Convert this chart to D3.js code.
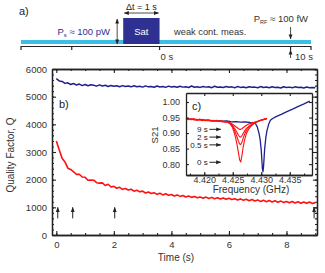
<!DOCTYPE html>
<html>
<head>
<meta charset="utf-8">
<script src="https://cdn.jsdelivr.net/npm/d3@7"></script>
<style>
  body { margin: 0; background: #fff; }
  svg { display: block; font-family: "Liberation Sans", Arial, sans-serif; }
</style>
</head>
<body>
<svg id="chart" width="325" height="273"></svg>
<script>
// ---- panel a: measurement timeline (s) ----
const timelineTicks = [-9.15, -5.8, 0, 8.65, 10];
const satWindow = [-2.4, 0];
const pumpArrowAt = -2.8;
const probeArrowAt = 8.65;

// ---- panel b: quality factor vs time ----
const qStep = 0.1;
const qBlue = [5650, 5570, 5550, 5480, 5500, 5440, 5475, 5420, 5455, 5400, 5440, 5395, 5430, 5410, 5380,
  5425, 5385, 5410, 5370, 5405, 5375, 5395, 5360, 5400, 5365, 5385, 5355, 5395, 5360, 5375, 5345, 5390,
  5355, 5370, 5340, 5385, 5350, 5365, 5335, 5380, 5350, 5370, 5340, 5375, 5345, 5360, 5330, 5385, 5340,
  5355, 5335, 5370, 5345, 5360, 5325, 5375, 5340, 5350, 5330, 5365, 5340, 5355, 5320, 5370, 5335, 5350,
  5325, 5360, 5340, 5345, 5320, 5365, 5330, 5350, 5325, 5360, 5335, 5340, 5315, 5360, 5330, 5345, 5320,
  5355, 5330, 5340, 5315, 5350, 5325, 5335, 5320];
const qRed = [3400, 3080, 2770, 2640, 2415, 2370, 2285, 2190, 2195, 2095, 2085, 1980, 1990, 1980, 1890,
  1875, 1885, 1790, 1835, 1735, 1760, 1690, 1725, 1650, 1680, 1625, 1655, 1585, 1615, 1560, 1585, 1520,
  1555, 1500, 1530, 1470, 1510, 1450, 1490, 1440, 1465, 1410, 1450, 1395, 1430, 1375, 1410, 1360, 1395,
  1345, 1375, 1330, 1370, 1320, 1360, 1310, 1345, 1300, 1340, 1290, 1325, 1280, 1310, 1265, 1305, 1255,
  1290, 1240, 1285, 1230, 1265, 1215, 1255, 1205, 1245, 1195, 1235, 1185, 1225, 1175, 1210, 1165, 1210,
  1160, 1200, 1150, 1195, 1145, 1190, 1140, 1170];
const markTimes = [0.05, 0.57, 2.03, 8.96];
const qTicks = [0, 1000, 2000, 3000, 4000, 5000, 6000];
const tTicks = [0, 2, 4, 6, 8];

// ---- panel c: S21 spectra ----
const redFreq = [4.4168, 4.4172, 4.4177, 4.4182, 4.4187, 4.4192, 4.4197, 4.4202, 4.4207, 4.4212, 4.4217,
  4.4222, 4.4227, 4.4232, 4.4237, 4.4241, 4.4245, 4.4249, 4.4252, 4.4255, 4.4258, 4.4260, 4.4262, 4.4264,
  4.4266, 4.4268, 4.4271, 4.4274, 4.4278, 4.4282, 4.4286, 4.4290, 4.4295, 4.4300, 4.4305, 4.4310];
const s21At0 = [.947, .943, .946, .944, .941, .945, .942, .940, .943, .939, .941, .938, .940, .936, .938, .935,
  .930, .920, .905, .885, .858, .836, .814, .807, .826, .852, .880, .899, .913, .922, .929, .934, .938, .941, .944, .948];
const s21At05 = [.945, .946, .943, .945, .943, .942, .944, .941, .940, .941, .938, .940, .937, .938, .936, .936,
  .931, .923, .913, .900, .885, .874, .865, .863, .870, .882, .897, .909, .918, .925, .930, .934, .938, .942, .945, .947];
const s21At2 = [.948, .944, .945, .942, .944, .943, .940, .942, .941, .938, .940, .939, .937, .939, .935, .937,
  .932, .926, .919, .910, .900, .893, .888, .887, .891, .898, .907, .915, .921, .927, .931, .935, .938, .941, .944, .946];
const s21At9 = [.946, .945, .944, .946, .942, .943, .943, .941, .942, .940, .939, .941, .938, .937, .937, .936,
  .933, .929, .925, .921, .917, .914, .912, .912, .914, .917, .921, .925, .929, .932, .934, .936, .939, .942, .944, .947];
const blueFreq = [4.4225, 4.4232, 4.4240, 4.4248, 4.4256, 4.4264, 4.4272, 4.4280, 4.4286, 4.4290, 4.4293,
  4.4296, 4.4298, 4.4300, 4.4301, 4.4302, 4.4303, 4.4304, 4.4305, 4.4306, 4.4308, 4.4310, 4.4313, 4.4316,
  4.4320, 4.4326, 4.4335, 4.4345, 4.4355, 4.4365, 4.4375, 4.4385];
const s21Blue = [.940, .938, .939, .936, .937, .935, .936, .934, .933, .930, .920, .900, .880, .845, .815,
  .785, .776, .792, .820, .850, .885, .908, .928, .941, .947, .953, .960, .969, .977, .986, .994, 1.003];
const delayLabels = ["9 s", "2 s", "0.5 s", "0 s"];
const delayLevels = [0.912, 0.887, 0.862, 0.806];
const fTicks = [4.420, 4.425, 4.430, 4.435];
const sTicks = [0.80, 0.85, 0.90, 0.95, 1.00];

const navy = "#1f1f8f", red = "#ff1010", ink = "#222";
const svg = d3.select("#chart");

const defs = svg.append("defs");
function addHead(id, size) {
  defs.append("marker").attr("id", id).attr("viewBox", "0 0 6 6")
      .attr("refX", 5.5).attr("refY", 3).attr("markerWidth", size).attr("markerHeight", size)
      .attr("markerUnits", "userSpaceOnUse").attr("orient", "auto-start-reverse")
    .append("path").attr("d", "M0,0.7 L6,3 L0,5.3 Z").attr("fill", ink);
}
addHead("head", 6);
addHead("small", 5);

// ================= panel a =================
const xA = d3.scaleLinear().domain([-9.15, 10]).range([21, 311]);
const a = svg.append("g");
a.append("text").attr("x", 19).attr("y", 15).attr("font-size", 11).attr("fill", ink).text("a)");
a.append("rect").attr("x", xA(-9.15)).attr("y", 40).attr("width", xA(10) - xA(-9.15)).attr("height", 4)
    .attr("fill", "#3cbfe6");
a.append("line").attr("x1", xA(-9.15)).attr("x2", xA(10)).attr("y1", 46.5).attr("y2", 46.5)
    .attr("stroke", ink).attr("stroke-width", 1.2);
a.selectAll(".tk").data(timelineTicks).join("line")
    .attr("x1", d => xA(d)).attr("x2", d => xA(d)).attr("y1", 46).attr("y2", 50)
    .attr("stroke", ink).attr("stroke-width", 1.2);
a.append("text").attr("x", xA(0) + 1).attr("y", 60).attr("font-size", 9.5).attr("fill", "#333").text("0 s");
a.append("text").attr("x", xA(10) + 2).attr("y", 60).attr("font-size", 9.5).attr("fill", "#333")
    .attr("text-anchor", "end").text("10 s");
a.append("rect").attr("x", xA(satWindow[0])).attr("y", 18).attr("width", xA(satWindow[1]) - xA(satWindow[0]))
    .attr("height", 26).attr("fill", "#2e3192");
a.append("text").attr("x", (xA(satWindow[0]) + xA(satWindow[1])) / 2).attr("y", 35)
    .attr("text-anchor", "middle").attr("font-size", 9.5).attr("fill", "#fff").text("Sat");
a.append("line").attr("x1", xA(satWindow[0]) + 1).attr("x2", xA(satWindow[1]) - 1).attr("y1", 13).attr("y2", 13)
    .attr("stroke", ink).attr("stroke-width", 0.8)
    .attr("marker-start", "url(#small)").attr("marker-end", "url(#small)");
a.append("text").attr("x", (xA(satWindow[0]) + xA(satWindow[1])) / 2).attr("y", 10)
    .attr("text-anchor", "middle").attr("font-size", 9).attr("fill", ink).text("\u0394t = 1 s");
a.append("line").attr("x1", xA(pumpArrowAt)).attr("x2", xA(pumpArrowAt)).attr("y1", 19).attr("y2", 44)
    .attr("stroke", ink).attr("stroke-width", 0.8)
    .attr("marker-start", "url(#small)").attr("marker-end", "url(#small)");
const ps = a.append("text").attr("x", 110).attr("y", 35).attr("text-anchor", "end")
    .attr("font-size", 9.5).attr("fill", "#2e3192");
ps.append("tspan").text("P");
ps.append("tspan").attr("font-size", 6).attr("dy", 2).text("s");
ps.append("tspan").attr("dy", -2).text(" \u2248 100 pW");
a.append("text").attr("x", 174).attr("y", 35).attr("font-size", 9.3).attr("fill", "#333").text("weak cont. meas.");
const prf = a.append("text").attr("x", 308).attr("y", 22).attr("text-anchor", "end")
    .attr("font-size", 9.5).attr("fill", "#333");
prf.append("tspan").text("P");
prf.append("tspan").attr("font-size", 5.5).attr("dy", 2).text("RF");
prf.append("tspan").attr("dy", -2).text(" \u2248 100 fW");
a.append("line").attr("x1", xA(probeArrowAt)).attr("x2", xA(probeArrowAt)).attr("y1", 27).attr("y2", 39)
    .attr("stroke", ink).attr("stroke-width", 0.8).attr("marker-end", "url(#small)");
a.append("line").attr("x1", xA(probeArrowAt)).attr("x2", xA(probeArrowAt)).attr("y1", 58).attr("y2", 50)
    .attr("stroke", ink).attr("stroke-width", 0.8).attr("marker-end", "url(#small)");

// ================= panel b =================
const x = d3.scaleLinear().domain([-0.15, 9.06]).range([52, 317]);
const y = d3.scaleLinear().domain([0, 6000]).range([235, 69]);
const b = svg.append("g");

function styleAxis(g, size) {
  g.select(".domain").attr("stroke", ink).attr("stroke-width", 1.3);
  g.selectAll(".tick line").attr("stroke", ink).attr("stroke-width", 1.1);
  g.selectAll("text").attr("font-size", size).attr("fill", "#333").attr("font-family", null);
}
const tMinor = d3.range(0, 9.01, 0.5), qMinor = d3.range(0, 6001, 200);
b.append("g").attr("transform", "translate(0,235)")
    .call(d3.axisBottom(x).tickValues(tMinor).tickSize(-2).tickSizeOuter(0).tickFormat(""))
    .call(g => styleAxis(g, 9.5));
b.append("g").attr("transform", "translate(0,235)")
    .call(d3.axisBottom(x).tickValues(tTicks).tickSize(-4).tickSizeOuter(0).tickPadding(6).tickFormat(d3.format("d")))
    .call(g => styleAxis(g, 9.5));
b.append("g").attr("transform", "translate(0,69)")
    .call(d3.axisTop(x).tickValues(tMinor).tickSize(-2).tickSizeOuter(0).tickFormat(""))
    .call(g => styleAxis(g, 9.5));
b.append("g").attr("transform", "translate(0,69)")
    .call(d3.axisTop(x).tickValues(tTicks).tickSize(-4).tickSizeOuter(0).tickFormat(""))
    .call(g => styleAxis(g, 9.5));
b.append("g").attr("transform", "translate(52,0)")
    .call(d3.axisLeft(y).tickValues(qMinor).tickSize(-2).tickSizeOuter(0).tickFormat(""))
    .call(g => styleAxis(g, 9.5));
b.append("g").attr("transform", "translate(52,0)")
    .call(d3.axisLeft(y).tickValues(qTicks).tickSize(-4).tickSizeOuter(0).tickPadding(5).tickFormat(d3.format("d")))
    .call(g => styleAxis(g, 9.5));
b.append("g").attr("transform", "translate(317,0)")
    .call(d3.axisRight(y).tickValues(qMinor).tickSize(-2).tickSizeOuter(0).tickFormat(""))
    .call(g => styleAxis(g, 9.5));
b.append("g").attr("transform", "translate(317,0)")
    .call(d3.axisRight(y).tickValues(qTicks).tickSize(-4).tickSizeOuter(0).tickFormat(""))
    .call(g => styleAxis(g, 9.5));

const qLine = d3.line().x((d, i) => x(i * qStep)).y(d => y(d));
b.append("path").datum(qBlue).attr("d", qLine).attr("fill", "none")
    .attr("stroke", navy).attr("stroke-width", 1.5).attr("stroke-linejoin", "round");
b.append("path").datum(qRed).attr("d", qLine).attr("fill", "none")
    .attr("stroke", red).attr("stroke-width", 1.6).attr("stroke-linejoin", "round");

b.selectAll(".mark").data(markTimes).join("line")
    .attr("x1", d => x(d)).attr("x2", d => x(d)).attr("y1", y(600)).attr("y2", y(1000))
    .attr("stroke", ink).attr("stroke-width", 1).attr("marker-end", "url(#small)");

b.append("text").attr("x", 59).attr("y", 108).attr("font-size", 11).attr("fill", ink).text("b)");
b.append("text").attr("x", 176).attr("y", 261).attr("text-anchor", "middle")
    .attr("font-size", 10).attr("fill", "#333").text("Time (s)");
b.append("text").attr("transform", "translate(14,155) rotate(-90)").attr("text-anchor", "middle")
    .attr("font-size", 10).attr("fill", "#333").text("Quality Factor, Q");

// ================= panel c (inset) =================
const xc = d3.scaleLinear().domain([4.4168, 4.4389]).range([186, 312]);
const yc = d3.scaleLinear().domain([0.765, 1.029]).range([175, 93]);
const c = svg.append("g");
c.append("rect").attr("x", 186).attr("y", 93).attr("width", 126).attr("height", 82).attr("fill", "#fff");

const cLine = d3.line().x(d => xc(d[0])).y(d => yc(d[1]));
c.append("path").datum(d3.zip(blueFreq, s21Blue)).attr("d", cLine).attr("fill", "none")
    .attr("stroke", navy).attr("stroke-width", 1.3).attr("stroke-linejoin", "round");
[s21At9, s21At2, s21At05, s21At0].forEach(vals => {
  c.append("path").datum(d3.zip(redFreq, vals)).attr("d", cLine).attr("fill", "none")
      .attr("stroke", red).attr("stroke-width", 1.1).attr("stroke-linejoin", "round");
});

const fMinor = d3.range(4.4175, 4.4389, 0.0025);
c.append("g").attr("transform", "translate(0,175)")
    .call(d3.axisBottom(xc).tickValues(fMinor).tickSize(-1.5).tickSizeOuter(0).tickFormat(""))
    .call(g => styleAxis(g, 9));
c.append("g").attr("transform", "translate(0,175)")
    .call(d3.axisBottom(xc).tickValues(fTicks).tickSize(-3).tickSizeOuter(0).tickPadding(2).tickFormat(d3.format(".3f")))
    .call(g => styleAxis(g, 9));
c.append("g").attr("transform", "translate(0,93)")
    .call(d3.axisTop(xc).tickValues(fTicks).tickSize(-3).tickSizeOuter(0).tickFormat(""))
    .call(g => styleAxis(g, 9));
c.append("g").attr("transform", "translate(186,0)")
    .call(d3.axisLeft(yc).tickValues(sTicks).tickSize(-3).tickSizeOuter(0).tickPadding(6).tickFormat(d3.format(".2f")))
    .call(g => styleAxis(g, 9));
c.append("g").attr("transform", "translate(312,0)")
    .call(d3.axisRight(yc).tickValues(sTicks).tickSize(-3).tickSizeOuter(0).tickFormat(""))
    .call(g => styleAxis(g, 9));

c.selectAll(".darr").data(delayLevels).join("line")
    .attr("x1", xc(4.4209)).attr("x2", xc(4.4229)).attr("y1", d => yc(d)).attr("y2", d => yc(d))
    .attr("stroke", ink).attr("stroke-width", 1).attr("marker-end", "url(#small)");
c.selectAll(".dlab").data(delayLabels).join("text")
    .attr("x", xc(4.4206)).attr("y", (d, i) => yc(delayLevels[i]) + 2.8).attr("text-anchor", "end")
    .attr("font-size", 8).attr("fill", ink).text(d => d);

c.append("text").attr("x", 192).attr("y", 110).attr("font-size", 11).attr("fill", ink).text("c)");
c.append("text").attr("x", 251).attr("y", 193).attr("text-anchor", "middle")
    .attr("font-size", 10).attr("fill", "#333").text("Frequency (GHz)");
c.append("text").attr("transform", "translate(158,135) rotate(-90)").attr("text-anchor", "middle")
    .attr("font-size", 9.5).attr("fill", "#333").text("S21");
</script>
</body>
</html>
